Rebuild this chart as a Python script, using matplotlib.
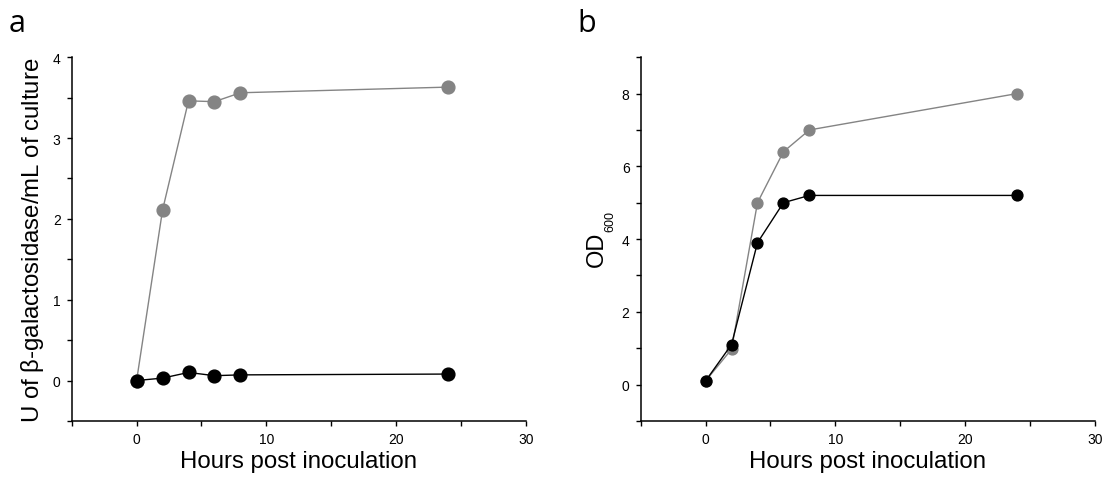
import numpy as np
import matplotlib
matplotlib.use("Agg")
import matplotlib.pyplot as plt
from matplotlib.ticker import MultipleLocator

plt.rcParams['font.family'] = ['Liberation Sans', 'DejaVu Sans']
plt.rcParams['mathtext.fontset'] = 'custom'
plt.rcParams['mathtext.rm'] = 'Liberation Sans'
plt.rcParams['mathtext.it'] = 'Liberation Sans'

# sampling times (h)
hours = [0, 2, 4, 6, 8, 24]

# beta-galactosidase activity (U/mL of culture)
bgal_gray = [0.0, 2.11, 3.46, 3.45, 3.56, 3.63]
bgal_black = [0.0, 0.03, 0.10, 0.06, 0.07, 0.08]

# growth (OD600)
od_gray = [0.1, 0.97, 5.0, 6.4, 7.0, 8.0]
od_black = [0.1, 1.1, 3.9, 5.0, 5.2, 5.2]

gray = '#848484'

fig = plt.figure(figsize=(11.09, 4.85), dpi=100)
ax_a = fig.add_axes([0.0647, 0.130, 0.4094, 0.750])
ax_b = fig.add_axes([0.5777, 0.130, 0.4096, 0.750])

def style(ax, ylim, ymajor, yminor):
    ax.set_xlim(-5, 30)
    ax.set_ylim(*ylim)
    ax.xaxis.set_major_locator(MultipleLocator(10))
    ax.xaxis.set_minor_locator(MultipleLocator(5))
    ax.yaxis.set_major_locator(MultipleLocator(ymajor))
    ax.yaxis.set_minor_locator(MultipleLocator(yminor))
    for s in ['top', 'right']:
        ax.spines[s].set_visible(False)
    for s in ['left', 'bottom']:
        ax.spines[s].set_linewidth(1.1)
    ax.tick_params(which='major', direction='out', length=3.5, width=1, labelsize=10, pad=4.5)
    ax.tick_params(which='minor', direction='out', length=3.5, width=1)
    ax.set_xlabel('Hours post inoculation', fontsize=17.3, labelpad=3)

# panel a
ax_a.plot(hours, bgal_gray, '-o', color=gray, lw=1, ms=9.2, zorder=3)
ax_a.plot(hours, bgal_black, '-o', color='black', lw=1, ms=9.2, zorder=4)
style(ax_a, (-0.5, 4), 1, 0.5)
ax_a.set_ylabel(r'U of $\beta$-galactosidase/mL of culture', fontsize=17.3)
ax_a.yaxis.set_label_coords(-0.056, 0.5)

# panel b
ax_b.plot(hours, od_gray, '-o', color=gray, lw=1, ms=7.8, zorder=3)
ax_b.plot(hours, od_black, '-o', color='black', lw=1, ms=7.8, zorder=4)
style(ax_b, (-1, 9), 2, 1)

# OD with a low-set 600 subscript, written as two rotated texts
fig.text(0.5440, 0.4501, 'OD', fontsize=17, rotation=90,
         rotation_mode='anchor', ha='left', va='baseline')
fig.text(0.5528, 0.5223, '600', fontsize=9, rotation=90,
         rotation_mode='anchor', ha='left', va='baseline')

fig.text(0.008, 0.934, 'a', fontsize=22, family=['Open Sans', 'DejaVu Sans'], va='baseline')
fig.text(0.521, 0.934, 'b', fontsize=22, family=['Open Sans', 'DejaVu Sans'], va='baseline')

fig.savefig('out.png', dpi=100)
